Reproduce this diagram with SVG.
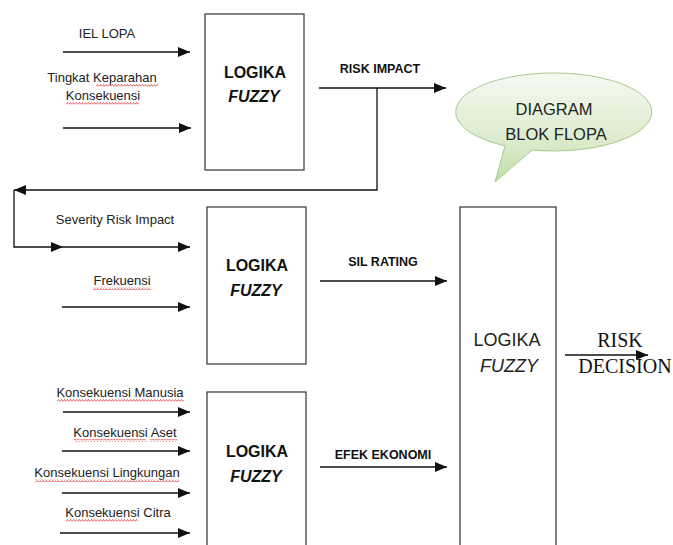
<svg xmlns="http://www.w3.org/2000/svg" width="673" height="545" viewBox="0 0 673 545">
<defs>
<style>
.box{fill:#fff;stroke:#333;stroke-width:1.2}
.ln{fill:none;stroke:#111;stroke-width:1.3}
.lbl{font-family:"Liberation Sans",Arial,sans-serif;font-size:13px;fill:#222;text-anchor:middle}
.blbl{font-family:"Liberation Sans",Arial,sans-serif;font-size:12.5px;font-weight:bold;fill:#111;text-anchor:middle}
.bx1{font-family:"Liberation Sans",Arial,sans-serif;font-size:16px;font-weight:bold;fill:#111;text-anchor:middle}
.bx2{font-family:"Liberation Sans",Arial,sans-serif;font-size:18px;fill:#222;text-anchor:middle}
.ser{font-family:"Liberation Serif","Times New Roman",serif;font-size:20px;fill:#111;text-anchor:middle}
.bub{font-family:"Liberation Sans",Arial,sans-serif;font-size:16.5px;fill:#222;text-anchor:middle}
.sq{fill:url(#squig)}
</style>
<marker id="ah" markerUnits="userSpaceOnUse" markerWidth="13" markerHeight="11" refX="12" refY="5" orient="auto">
<path d="M0,0 L12,5 L0,10 Z" fill="#111"/>
</marker>
<pattern id="squig" patternUnits="userSpaceOnUse" width="3" height="3">
<path d="M0,2.5 L1.5,0.5 L3,2.5" fill="none" stroke="#e02020" stroke-width="0.7"/>
</pattern>
<linearGradient id="bg" x1="0" y1="0" x2="0" y2="1">
<stop offset="0" stop-color="#f6faf2"/>
<stop offset="0.6" stop-color="#dcecce"/>
<stop offset="1" stop-color="#c2dfa8"/>
</linearGradient>
</defs>

<g id="connectors">
<line class="ln" x1="63" y1="52" x2="190" y2="52" marker-end="url(#ah)"/>
<line class="ln" x1="63" y1="128" x2="191" y2="128" marker-end="url(#ah)"/>
<line class="ln" x1="319" y1="88" x2="446" y2="88" marker-end="url(#ah)"/>
<path class="ln" d="M377,88 V190 H14" marker-end="url(#ah)"/>
<path class="ln" d="M14,190 V247 H63" marker-end="url(#ah)"/>
<line class="ln" x1="63" y1="247" x2="190" y2="247" marker-end="url(#ah)"/>
<line class="ln" x1="62" y1="307" x2="190" y2="307" marker-end="url(#ah)"/>
<line class="ln" x1="320" y1="281" x2="447" y2="281" marker-end="url(#ah)"/>
<line class="ln" x1="320" y1="467" x2="447" y2="467" marker-end="url(#ah)"/>
<line class="ln" x1="63" y1="412" x2="190" y2="412" marker-end="url(#ah)"/>
<line class="ln" x1="62" y1="451" x2="190" y2="451" marker-end="url(#ah)"/>
<line class="ln" x1="62" y1="493" x2="190" y2="493" marker-end="url(#ah)"/>
<line class="ln" x1="60" y1="533" x2="190" y2="533" marker-end="url(#ah)"/>
<line class="ln" x1="565" y1="355" x2="648" y2="355" marker-end="url(#ah)"/>
</g>

<g id="labels">
<text class="lbl" x="107" y="38">IEL LOPA</text>
<text class="lbl" x="102" y="82">Tingkat Keparahan</text>
<text class="lbl" x="103" y="100">Konsekuensi</text>
<text class="lbl" x="115" y="224">Severity Risk Impact</text>
<text class="lbl" x="122" y="285">Frekuensi</text>
<text class="lbl" x="120" y="397">Konsekuensi Manusia</text>
<text class="lbl" x="125" y="437">Konsekuensi Aset</text>
<text class="lbl" x="107" y="477">Konsekuensi Lingkungan</text>
<text class="lbl" x="118" y="517">Konsekuensi Citra</text>
<text class="blbl" x="380" y="73">RISK IMPACT</text>
<text class="blbl" x="383" y="266">SIL RATING</text>
<text class="blbl" x="383" y="459">EFEK EKONOMI</text>
<rect class="sq" x="96" y="84" width="62" height="3"/>
<rect class="sq" x="66" y="102" width="73" height="3"/>
<rect class="sq" x="93" y="287" width="58" height="3"/>
<rect class="sq" x="57" y="399" width="127" height="3"/>
<rect class="sq" x="74" y="439" width="72" height="3"/>
<rect class="sq" x="150" y="439" width="27" height="3"/>
<rect class="sq" x="35" y="479" width="144" height="3"/>
<rect class="sq" x="66" y="519" width="72" height="3"/>
</g>

<g id="fuzzy1">
<rect class="box" x="205" y="14" width="99" height="156"/>
<text class="bx1" x="255" y="78">LOGIKA</text>
<text class="bx1" x="254" y="102" font-style="italic">FUZZY</text>
</g>

<g id="fuzzy2">
<rect class="box" x="207" y="207" width="99" height="157"/>
<text class="bx1" x="257" y="271">LOGIKA</text>
<text class="bx1" x="256" y="296" font-style="italic">FUZZY</text>
</g>

<g id="fuzzy3">
<rect class="box" x="207" y="392" width="99" height="170"/>
<text class="bx1" x="257" y="457">LOGIKA</text>
<text class="bx1" x="256" y="482" font-style="italic">FUZZY</text>
</g>

<g id="fuzzy4">
<rect class="box" x="460" y="207" width="96" height="355"/>
<text class="bx2" x="507" y="346">LOGIKA</text>
<text class="bx2" x="509" y="372" font-style="italic">FUZZY</text>
</g>

<g id="risk-decision">
<text class="ser" x="620" y="347">RISK</text>
<text class="ser" x="625" y="373">DECISION</text>
</g>

<g id="bubble">
<path d="M505,145.8 A98,39 0 1 1 532,150 L495,182 Z" fill="url(#bg)" stroke="#a9c98e" stroke-width="1"/>
<text class="bub" x="554" y="115">DIAGRAM</text>
<text class="bub" x="556" y="140">BLOK FLOPA</text>
</g>
</svg>
